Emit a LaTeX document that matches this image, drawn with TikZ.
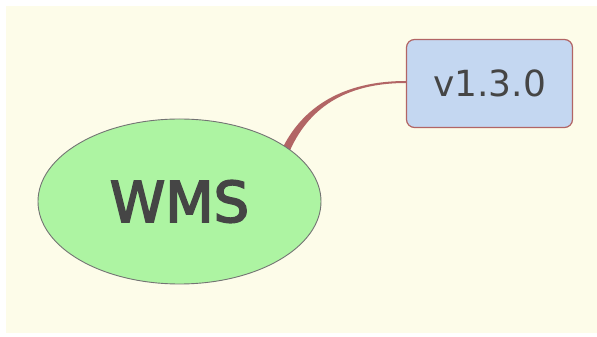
\documentclass[tikz,border=0pt]{standalone}
\usepackage{fontspec}
\setmainfont{DejaVu Sans}
\usetikzlibrary{calc, positioning, shapes.geometric}
\definecolor{paper}{HTML}{FDFCE9}
\definecolor{leaf}{HTML}{ADF4A2}
\definecolor{sky}{HTML}{C4D7F1}
\definecolor{rust}{HTML}{B26565}
\definecolor{ink}{HTML}{454545}
\tikzset{
    topic/.style={ellipse, draw=black!55, line width=0.9pt, fill=leaf, text=ink, inner sep=0pt,
        minimum width=283pt, minimum height=165pt,
        font=\fontsize{56}{56}\selectfont\addfontfeature{FakeBold=3.2}},
    tag/.style={rectangle, rounded corners=8pt, draw=rust, line width=1.2pt, fill=sky, text=ink,
        inner sep=0pt, minimum width=166pt, minimum height=88pt, font=\fontsize{36}{36}\selectfont}
}

\begin{document}
\begin{tikzpicture}[x=1pt, y=1pt]
    \useasboundingbox (0, 0) rectangle (597, 337);
    \fill[white] (0, 0) rectangle (597, 337);
    \fill[paper] (6, 4) rectangle (597, 331);
    \node[tag] (ver) at (489.5, 253.5) {v1.3.0};
    \coordinate (root) at (285, 185);
    \coordinate (tip) at ($(ver.west)+(0, 1.5)$);
    % tapered branch, drawn before the ellipse so its root is hidden
    \fill[rust] ($(root)+(3.6, -1.6)$) .. controls (307.5, 228.5) and (345, 254) .. ($(tip)+(0, -1)$)
        -- ($(tip)+(0, 1)$) .. controls (345, 256) and (302.5, 231.5) .. ($(root)+(-3.6, 1.6)$) -- cycle;
    \node[topic] (wms) at (179.5, 135.5) {WMS};
\end{tikzpicture}
\end{document}
